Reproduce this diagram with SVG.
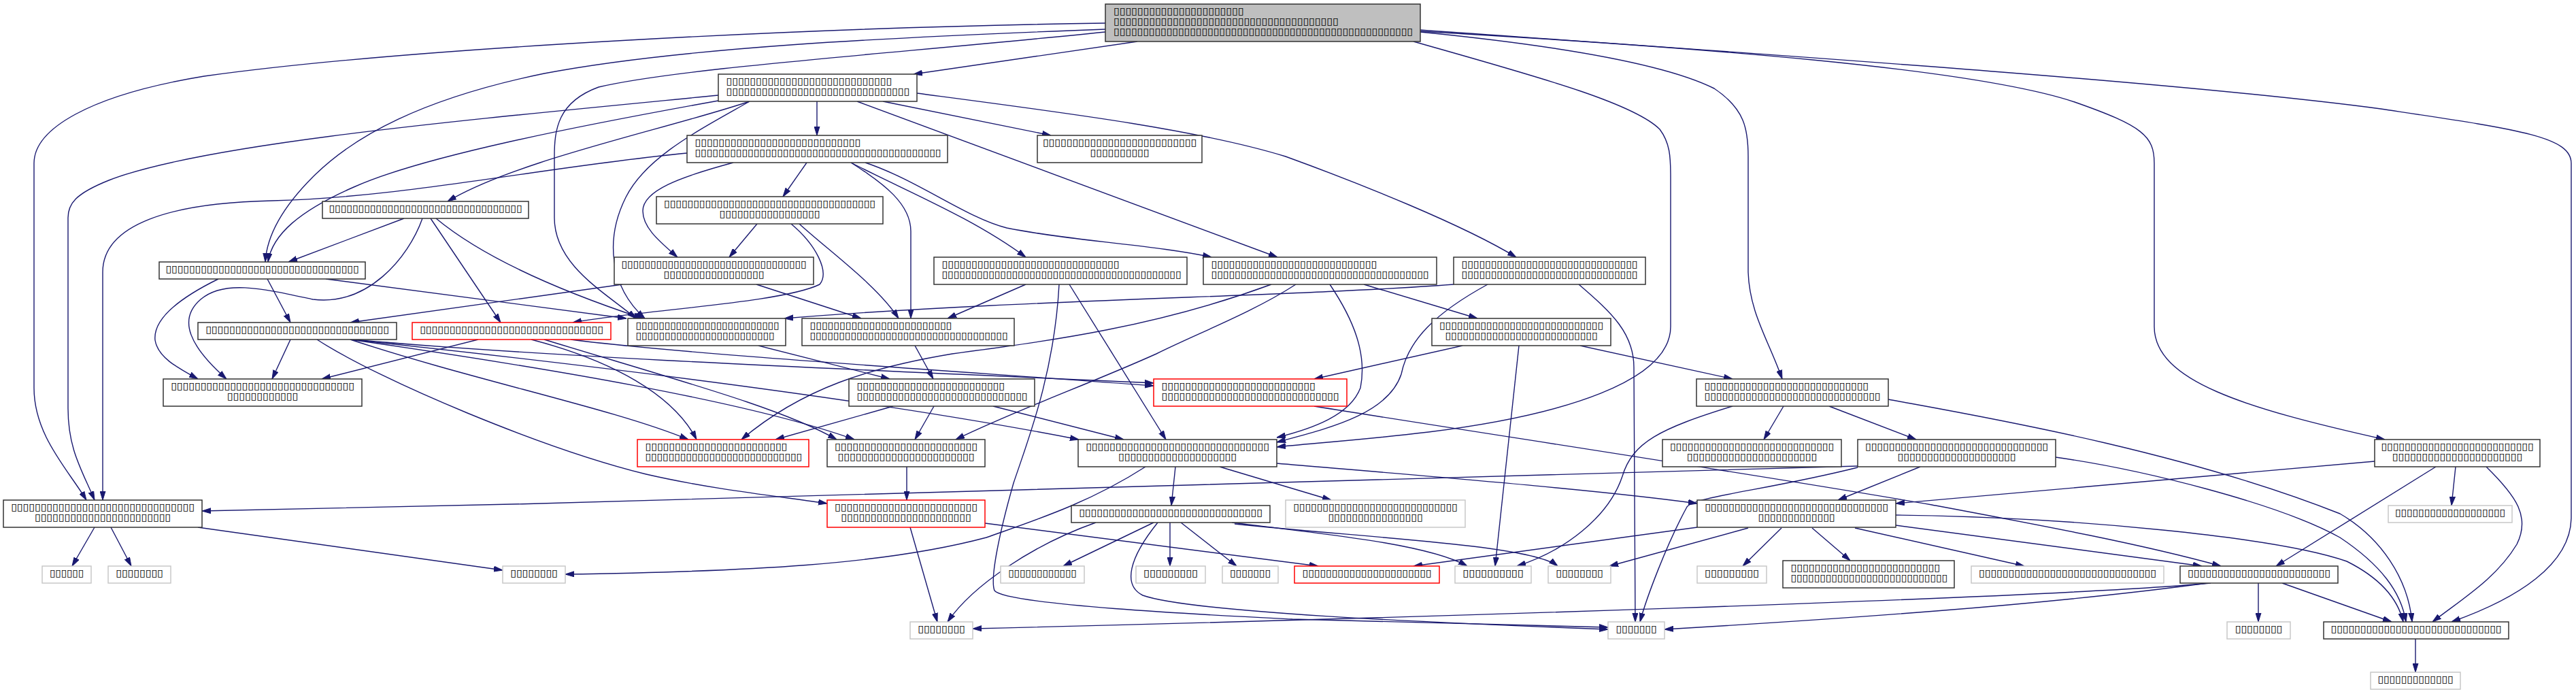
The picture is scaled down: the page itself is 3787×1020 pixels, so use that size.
<svg xmlns="http://www.w3.org/2000/svg" width="3787" height="1020" viewBox="0 0 3787 1020">
<style>
.nd rect{fill:#fff;stroke:#333;stroke-width:1.5}
.gy rect{stroke:#c8c8c8}
.rd rect{stroke:#ff0000}
#n1 rect{fill:#bfbfbf}
text{font-family:"DejaVu Sans","Liberation Sans",sans-serif;font-size:14px;font-weight:bold;fill:#000}
.c{text-anchor:middle}
#edges path{fill:none;stroke:#191970;stroke-width:1.4;marker-end:url(#ah)}
</style>
<defs>
<marker id="ah" markerWidth="13" markerHeight="9" refX="13" refY="4.5" orient="auto" markerUnits="userSpaceOnUse"><path d="M0,0.5 L13,4.5 L0,8.5 z" fill="#191970" stroke="#191970" stroke-width="1"/></marker>
</defs>
<rect width="3787" height="1020" fill="#fff"/>
<g id="edges">
<path d="M1672,61 L1343,109"/>
<path d="M1625,34 C1200,40 600,70 300,112 C130,140 50,190 50,240 L50,570 C50,640 100,690 127,735"/>
<path d="M1625,43 C1300,55 1000,70 800,108 C620,145 520,200 460,260 C410,310 392,350 390,385"/>
<path d="M1625,47 C1300,80 1000,100 880,128 C820,150 815,190 815,230 L815,320 C815,390 890,430 935,468"/>
<path d="M2078,61 C2250,110 2400,150 2440,190 C2455,210 2456,230 2456,260 L2456,480 C2456,560 2300,610 2100,635 C1990,648 1920,652 1877,657"/>
<path d="M2088,47 C2300,68 2450,95 2520,130 C2565,160 2570,190 2570,230 L2570,400 C2572,460 2600,500 2620,557"/>
<path d="M2088,44 C2600,80 3200,120 3500,160 C3700,190 3780,200 3780,240 L3780,760 C3780,830 3700,880 3604,914"/>
<path d="M2088,46 C2500,70 2900,100 3050,150 C3150,185 3167,200 3167,240 L3167,480 C3167,560 3300,600 3506,646"/>
<path d="M1201,149 L1201,199"/>
<path d="M1298,149 L1545,199"/>
<path d="M1260,149 L1878,378"/>
<path d="M1348,137 C1560,165 1760,190 1890,230 C2000,270 2150,330 2229,378"/>
<path d="M1056,140 C700,175 300,210 160,265 C110,285 100,300 100,320 L100,600 C100,660 120,690 139,735"/>
<path d="M1056,148 C850,185 620,230 520,275 C440,310 400,345 394,385"/>
<path d="M1102,149 C980,190 760,235 658,296"/>
<path d="M1102,149 C1030,190 950,230 920,290 C890,350 895,420 948,468"/>
<path d="M1010,225 C800,245 600,290 400,295 C250,298 151,330 151,400 L151,735"/>
<path d="M1078,239 C1000,260 945,280 945,310 C945,335 970,355 996,378"/>
<path d="M1186,239 L1151,289"/>
<path d="M1251,239 C1300,270 1339,300 1339,340 L1339,468"/>
<path d="M1251,239 C1330,280 1430,320 1508,378"/>
<path d="M1272,239 C1350,265 1420,320 1480,335 C1580,355 1700,360 1781,378"/>
<path d="M594,321 L424,385"/>
<path d="M621,321 C600,380 540,450 460,440 C390,425 330,410 295,440 C260,470 280,510 333,557"/>
<path d="M633,321 L736,474"/>
<path d="M641,321 C700,370 800,420 945,468"/>
<path d="M1113,329 L1072,378"/>
<path d="M1163,329 C1200,360 1220,400 1205,418 C1150,445 950,455 842,474"/>
<path d="M1175,329 C1220,370 1290,420 1321,468"/>
<path d="M321,410 C260,440 225,470 228,500 C232,525 260,540 291,557"/>
<path d="M393,410 L427,474"/>
<path d="M479,410 L921,468"/>
<path d="M915,418 L515,474"/>
<path d="M1112,418 L1266,468"/>
<path d="M1508,418 L1393,468"/>
<path d="M1557,418 C1550,550 1510,650 1490,710 C1470,780 1455,850 1462,868 C1480,890 1800,905 1900,910 C2100,915 2250,918 2364,922"/>
<path d="M1572,418 L1714,646"/>
<path d="M1869,418 C1700,480 1550,500 1400,520 C1280,540 1180,570 1090,646"/>
<path d="M1905,418 C1840,460 1760,490 1700,520 C1600,565 1500,600 1405,646"/>
<path d="M1955,418 C1990,470 2010,520 2000,570 C1985,610 1930,630 1877,643"/>
<path d="M2005,418 L2172,468"/>
<path d="M2187,418 C2110,460 2070,500 2060,550 C2040,610 1950,630 1877,650"/>
<path d="M2321,418 C2370,460 2402,490 2402,540 L2404,914"/>
<path d="M2137,418 C1900,436 1500,440 1153,468"/>
<path d="M427,499 L400,557"/>
<path d="M466,499 C560,560 800,660 950,697 C1050,720 1150,730 1216,740"/>
<path d="M520,499 C800,525 1300,545 1696,563"/>
<path d="M515,499 C700,560 900,600 1012,646"/>
<path d="M515,499 C800,540 1100,590 1256,646"/>
<path d="M515,499 C900,540 1300,590 1586,646"/>
<path d="M703,499 L473,557"/>
<path d="M839,499 C1000,520 1400,545 1696,567"/>
<path d="M781,499 C900,530 990,580 1024,646"/>
<path d="M800,499 C1000,560 1150,600 1230,646"/>
<path d="M1115,508 L1308,557"/>
<path d="M1345,508 L1372,557"/>
<path d="M2150,508 L1932,557"/>
<path d="M2233,508 L2198,832"/>
<path d="M2323,508 L2547,557"/>
<path d="M1313,597 L1140,646"/>
<path d="M1373,597 L1345,646"/>
<path d="M1460,597 L1652,646"/>
<path d="M1932,597 C2200,640 2600,700 2840,742 C3000,772 3150,800 3265,832"/>
<path d="M2547,597 C2440,630 2400,650 2385,700 C2365,760 2300,810 2230,832"/>
<path d="M2622,597 L2593,646"/>
<path d="M2689,597 L2817,646"/>
<path d="M2776,587 C2900,610 3200,660 3440,755 C3500,790 3540,850 3546,914"/>
<path d="M1333,686 L1333,735"/>
<path d="M1684,686 C1600,740 1520,765 1450,790 C1300,830 1100,840 831,844"/>
<path d="M1728,686 L1722,743"/>
<path d="M1877,681 C2100,700 2350,720 2495,740"/>
<path d="M1793,686 L1957,735"/>
<path d="M2731,685 C2200,702 1200,733 297,751"/>
<path d="M2823,686 L2702,735"/>
<path d="M2731,687 C2600,720 2490,730 2480,745 C2450,800 2420,880 2411,914"/>
<path d="M3022,672 C3150,690 3350,740 3440,790 C3500,830 3530,870 3537,914"/>
<path d="M3491,678 L2787,740"/>
<path d="M3581,686 L3346,832"/>
<path d="M3610,686 L3604,743"/>
<path d="M3655,686 C3700,730 3720,760 3700,800 C3670,850 3620,880 3576,914"/>
<path d="M139,775 L106,832"/>
<path d="M163,775 L193,832"/>
<path d="M291,775 L739,838"/>
<path d="M1338,775 L1378,914"/>
<path d="M1448,769 L1938,832"/>
<path d="M1611,768 C1520,800 1430,860 1393,914"/>
<path d="M1696,768 L1563,832"/>
<path d="M1702,768 C1660,820 1650,860 1680,875 C1750,900 2100,915 2364,925"/>
<path d="M1720,768 L1720,832"/>
<path d="M1736,768 L1818,832"/>
<path d="M1811,768 C1950,785 2100,800 2157,832"/>
<path d="M1815,770 C2000,790 2250,800 2290,832"/>
<path d="M2495,775 L2078,832"/>
<path d="M2570,776 L2366,832"/>
<path d="M2619,776 L2562,832"/>
<path d="M2664,776 L2720,824"/>
<path d="M2727,776 L2976,832"/>
<path d="M2787,772 L3237,832"/>
<path d="M2787,757 C3050,760 3350,790 3450,825 C3500,850 3525,880 3533,914"/>
<path d="M3250,857 C3000,880 2000,910 1430,924"/>
<path d="M3245,857 C3000,890 2700,910 2447,925"/>
<path d="M3320,857 L3320,914"/>
<path d="M3355,857 L3516,914"/>
<path d="M3551,939 L3551,988"/>
</g>
<g id="n1" class="nd"><rect x="1625" y="6" width="463" height="55"/>
<text x="1637" y="21" textLength="191.4" lengthAdjust="spacingAndGlyphs">▯▯▯▯▯▯▯▯▯▯▯▯▯▯▯▯▯▯▯▯▯▯</text>
<text x="1637" y="36" textLength="330.6" lengthAdjust="spacingAndGlyphs">▯▯▯▯▯▯▯▯▯▯▯▯▯▯▯▯▯▯▯▯▯▯▯▯▯▯▯▯▯▯▯▯▯▯▯▯▯▯</text>
<text x="1637" y="51" textLength="440" lengthAdjust="spacingAndGlyphs">▯▯▯▯▯▯▯▯▯▯▯▯▯▯▯▯▯▯▯▯▯▯▯▯▯▯▯▯▯▯▯▯▯▯▯▯▯▯▯▯▯▯▯▯▯▯▯▯▯▯▯</text></g>
<g id="n2" class="nd"><rect x="1056" y="109" width="292" height="40"/>
<text x="1067.5" y="124" textLength="243.6" lengthAdjust="spacingAndGlyphs">▯▯▯▯▯▯▯▯▯▯▯▯▯▯▯▯▯▯▯▯▯▯▯▯▯▯▯▯</text>
<text x="1067.5" y="139" textLength="269.7" lengthAdjust="spacingAndGlyphs">▯▯▯▯▯▯▯▯▯▯▯▯▯▯▯▯▯▯▯▯▯▯▯▯▯▯▯▯▯▯▯</text></g>
<g id="n3" class="nd"><rect x="1010" y="199" width="383" height="40"/>
<text x="1021.5" y="214" textLength="243.6" lengthAdjust="spacingAndGlyphs">▯▯▯▯▯▯▯▯▯▯▯▯▯▯▯▯▯▯▯▯▯▯▯▯▯▯▯▯</text>
<text x="1021.5" y="229" textLength="362" lengthAdjust="spacingAndGlyphs">▯▯▯▯▯▯▯▯▯▯▯▯▯▯▯▯▯▯▯▯▯▯▯▯▯▯▯▯▯▯▯▯▯▯▯▯▯▯▯▯▯▯</text></g>
<g id="n4" class="nd"><rect x="1525" y="199" width="242" height="40"/>
<text class="c" x="1646" y="214" textLength="226.2" lengthAdjust="spacingAndGlyphs">▯▯▯▯▯▯▯▯▯▯▯▯▯▯▯▯▯▯▯▯▯▯▯▯▯▯</text>
<text class="c" x="1646" y="229" textLength="87" lengthAdjust="spacingAndGlyphs">▯▯▯▯▯▯▯▯▯▯</text></g>
<g id="n5" class="nd"><rect x="474" y="296" width="303" height="25"/>
<text class="c" x="625.5" y="311" textLength="284" lengthAdjust="spacingAndGlyphs">▯▯▯▯▯▯▯▯▯▯▯▯▯▯▯▯▯▯▯▯▯▯▯▯▯▯▯▯▯▯▯▯▯</text></g>
<g id="n6" class="nd"><rect x="965" y="289" width="333" height="40"/>
<text class="c" x="1131.5" y="304" textLength="311" lengthAdjust="spacingAndGlyphs">▯▯▯▯▯▯▯▯▯▯▯▯▯▯▯▯▯▯▯▯▯▯▯▯▯▯▯▯▯▯▯▯▯▯▯▯</text>
<text class="c" x="1131.5" y="319" textLength="147.9" lengthAdjust="spacingAndGlyphs">▯▯▯▯▯▯▯▯▯▯▯▯▯▯▯▯▯</text></g>
<g id="n7" class="nd"><rect x="234" y="385" width="303" height="25"/>
<text class="c" x="385.5" y="400" textLength="284" lengthAdjust="spacingAndGlyphs">▯▯▯▯▯▯▯▯▯▯▯▯▯▯▯▯▯▯▯▯▯▯▯▯▯▯▯▯▯▯▯▯▯</text></g>
<g id="n8" class="nd"><rect x="903" y="378" width="293" height="40"/>
<text class="c" x="1049.5" y="393" textLength="272" lengthAdjust="spacingAndGlyphs">▯▯▯▯▯▯▯▯▯▯▯▯▯▯▯▯▯▯▯▯▯▯▯▯▯▯▯▯▯▯▯▯</text>
<text class="c" x="1049.5" y="408" textLength="147.9" lengthAdjust="spacingAndGlyphs">▯▯▯▯▯▯▯▯▯▯▯▯▯▯▯▯▯</text></g>
<g id="n9" class="nd"><rect x="1373" y="378" width="372" height="40"/>
<text x="1384.5" y="393" textLength="261" lengthAdjust="spacingAndGlyphs">▯▯▯▯▯▯▯▯▯▯▯▯▯▯▯▯▯▯▯▯▯▯▯▯▯▯▯▯▯▯</text>
<text x="1384.5" y="408" textLength="352" lengthAdjust="spacingAndGlyphs">▯▯▯▯▯▯▯▯▯▯▯▯▯▯▯▯▯▯▯▯▯▯▯▯▯▯▯▯▯▯▯▯▯▯▯▯▯▯▯▯▯</text></g>
<g id="n10" class="nd"><rect x="1769" y="378" width="343" height="40"/>
<text x="1780.5" y="393" textLength="243.6" lengthAdjust="spacingAndGlyphs">▯▯▯▯▯▯▯▯▯▯▯▯▯▯▯▯▯▯▯▯▯▯▯▯▯▯▯▯</text>
<text x="1780.5" y="408" textLength="320" lengthAdjust="spacingAndGlyphs">▯▯▯▯▯▯▯▯▯▯▯▯▯▯▯▯▯▯▯▯▯▯▯▯▯▯▯▯▯▯▯▯▯▯▯▯▯</text></g>
<g id="n11" class="nd"><rect x="2137" y="378" width="282" height="40"/>
<text x="2148.5" y="393" textLength="259" lengthAdjust="spacingAndGlyphs">▯▯▯▯▯▯▯▯▯▯▯▯▯▯▯▯▯▯▯▯▯▯▯▯▯▯▯▯▯▯</text>
<text x="2148.5" y="408" textLength="259" lengthAdjust="spacingAndGlyphs">▯▯▯▯▯▯▯▯▯▯▯▯▯▯▯▯▯▯▯▯▯▯▯▯▯▯▯▯▯▯</text></g>
<g id="n12" class="nd"><rect x="291" y="474" width="292" height="25"/>
<text class="c" x="437" y="489" textLength="269.7" lengthAdjust="spacingAndGlyphs">▯▯▯▯▯▯▯▯▯▯▯▯▯▯▯▯▯▯▯▯▯▯▯▯▯▯▯▯▯▯▯</text></g>
<g id="n13" class="nd rd"><rect x="606" y="474" width="292" height="25"/>
<text class="c" x="752" y="489" textLength="269.7" lengthAdjust="spacingAndGlyphs">▯▯▯▯▯▯▯▯▯▯▯▯▯▯▯▯▯▯▯▯▯▯▯▯▯▯▯▯▯▯▯</text></g>
<g id="n14" class="nd"><rect x="923" y="468" width="232" height="40"/>
<text x="934.5" y="483" textLength="211" lengthAdjust="spacingAndGlyphs">▯▯▯▯▯▯▯▯▯▯▯▯▯▯▯▯▯▯▯▯▯▯▯▯▯</text>
<text x="934.5" y="498" textLength="204" lengthAdjust="spacingAndGlyphs">▯▯▯▯▯▯▯▯▯▯▯▯▯▯▯▯▯▯▯▯▯▯▯▯</text></g>
<g id="n15" class="nd"><rect x="1179" y="468" width="312" height="40"/>
<text x="1190.5" y="483" textLength="208.8" lengthAdjust="spacingAndGlyphs">▯▯▯▯▯▯▯▯▯▯▯▯▯▯▯▯▯▯▯▯▯▯▯▯</text>
<text x="1190.5" y="498" textLength="291" lengthAdjust="spacingAndGlyphs">▯▯▯▯▯▯▯▯▯▯▯▯▯▯▯▯▯▯▯▯▯▯▯▯▯▯▯▯▯▯▯▯▯▯</text></g>
<g id="n16" class="nd"><rect x="2105" y="468" width="263" height="40"/>
<text class="c" x="2236.5" y="483" textLength="241" lengthAdjust="spacingAndGlyphs">▯▯▯▯▯▯▯▯▯▯▯▯▯▯▯▯▯▯▯▯▯▯▯▯▯▯▯▯</text>
<text class="c" x="2236.5" y="498" textLength="224" lengthAdjust="spacingAndGlyphs">▯▯▯▯▯▯▯▯▯▯▯▯▯▯▯▯▯▯▯▯▯▯▯▯▯▯</text></g>
<g id="n17" class="nd"><rect x="240" y="557" width="292" height="40"/>
<text class="c" x="386" y="572" textLength="269.7" lengthAdjust="spacingAndGlyphs">▯▯▯▯▯▯▯▯▯▯▯▯▯▯▯▯▯▯▯▯▯▯▯▯▯▯▯▯▯▯▯</text>
<text class="c" x="386" y="587" textLength="104.4" lengthAdjust="spacingAndGlyphs">▯▯▯▯▯▯▯▯▯▯▯▯</text></g>
<g id="n18" class="nd"><rect x="1248" y="557" width="273" height="40"/>
<text x="1259.5" y="572" textLength="217.5" lengthAdjust="spacingAndGlyphs">▯▯▯▯▯▯▯▯▯▯▯▯▯▯▯▯▯▯▯▯▯▯▯▯▯</text>
<text x="1259.5" y="587" textLength="251" lengthAdjust="spacingAndGlyphs">▯▯▯▯▯▯▯▯▯▯▯▯▯▯▯▯▯▯▯▯▯▯▯▯▯▯▯▯▯</text></g>
<g id="n19" class="nd rd"><rect x="1696" y="557" width="284" height="40"/>
<text x="1707.5" y="572" textLength="226.2" lengthAdjust="spacingAndGlyphs">▯▯▯▯▯▯▯▯▯▯▯▯▯▯▯▯▯▯▯▯▯▯▯▯▯▯</text>
<text x="1707.5" y="587" textLength="261" lengthAdjust="spacingAndGlyphs">▯▯▯▯▯▯▯▯▯▯▯▯▯▯▯▯▯▯▯▯▯▯▯▯▯▯▯▯▯▯</text></g>
<g id="n20" class="nd"><rect x="2494" y="557" width="282" height="40"/>
<text x="2505.5" y="572" textLength="241.5" lengthAdjust="spacingAndGlyphs">▯▯▯▯▯▯▯▯▯▯▯▯▯▯▯▯▯▯▯▯▯▯▯▯▯▯▯▯</text>
<text x="2505.5" y="587" textLength="259" lengthAdjust="spacingAndGlyphs">▯▯▯▯▯▯▯▯▯▯▯▯▯▯▯▯▯▯▯▯▯▯▯▯▯▯▯▯▯▯</text></g>
<g id="n21" class="nd rd"><rect x="937" y="646" width="252" height="40"/>
<text x="948.5" y="661" textLength="208.8" lengthAdjust="spacingAndGlyphs">▯▯▯▯▯▯▯▯▯▯▯▯▯▯▯▯▯▯▯▯▯▯▯▯</text>
<text x="948.5" y="676" textLength="230.5" lengthAdjust="spacingAndGlyphs">▯▯▯▯▯▯▯▯▯▯▯▯▯▯▯▯▯▯▯▯▯▯▯▯▯▯▯</text></g>
<g id="n22" class="nd"><rect x="1216" y="646" width="232" height="40"/>
<text class="c" x="1332" y="661" textLength="210" lengthAdjust="spacingAndGlyphs">▯▯▯▯▯▯▯▯▯▯▯▯▯▯▯▯▯▯▯▯▯▯▯▯</text>
<text class="c" x="1332" y="676" textLength="201.2" lengthAdjust="spacingAndGlyphs">▯▯▯▯▯▯▯▯▯▯▯▯▯▯▯▯▯▯▯▯▯▯▯</text></g>
<g id="n23" class="nd"><rect x="1585" y="646" width="292" height="40"/>
<text class="c" x="1731" y="661" textLength="269.7" lengthAdjust="spacingAndGlyphs">▯▯▯▯▯▯▯▯▯▯▯▯▯▯▯▯▯▯▯▯▯▯▯▯▯▯▯▯▯▯▯</text>
<text class="c" x="1731" y="676" textLength="174" lengthAdjust="spacingAndGlyphs">▯▯▯▯▯▯▯▯▯▯▯▯▯▯▯▯▯▯▯▯</text></g>
<g id="n24" class="nd"><rect x="2444" y="646" width="263" height="40"/>
<text class="c" x="2575.5" y="661" textLength="241" lengthAdjust="spacingAndGlyphs">▯▯▯▯▯▯▯▯▯▯▯▯▯▯▯▯▯▯▯▯▯▯▯▯▯▯▯▯</text>
<text class="c" x="2575.5" y="676" textLength="191.4" lengthAdjust="spacingAndGlyphs">▯▯▯▯▯▯▯▯▯▯▯▯▯▯▯▯▯▯▯▯▯▯</text></g>
<g id="n25" class="nd"><rect x="2731" y="646" width="291" height="40"/>
<text class="c" x="2876.5" y="661" textLength="269" lengthAdjust="spacingAndGlyphs">▯▯▯▯▯▯▯▯▯▯▯▯▯▯▯▯▯▯▯▯▯▯▯▯▯▯▯▯▯▯▯</text>
<text class="c" x="2876.5" y="676" textLength="174" lengthAdjust="spacingAndGlyphs">▯▯▯▯▯▯▯▯▯▯▯▯▯▯▯▯▯▯▯▯</text></g>
<g id="n26" class="nd"><rect x="3491" y="646" width="243" height="40"/>
<text class="c" x="3612.5" y="661" textLength="224" lengthAdjust="spacingAndGlyphs">▯▯▯▯▯▯▯▯▯▯▯▯▯▯▯▯▯▯▯▯▯▯▯▯▯▯</text>
<text class="c" x="3612.5" y="676" textLength="191.4" lengthAdjust="spacingAndGlyphs">▯▯▯▯▯▯▯▯▯▯▯▯▯▯▯▯▯▯▯▯▯▯</text></g>
<g id="n27" class="nd"><rect x="5" y="735" width="292" height="40"/>
<text class="c" x="151" y="750" textLength="269.7" lengthAdjust="spacingAndGlyphs">▯▯▯▯▯▯▯▯▯▯▯▯▯▯▯▯▯▯▯▯▯▯▯▯▯▯▯▯▯▯▯</text>
<text class="c" x="151" y="765" textLength="200.1" lengthAdjust="spacingAndGlyphs">▯▯▯▯▯▯▯▯▯▯▯▯▯▯▯▯▯▯▯▯▯▯▯</text></g>
<g id="n28" class="nd rd"><rect x="1216" y="735" width="232" height="40"/>
<text class="c" x="1332" y="750" textLength="210" lengthAdjust="spacingAndGlyphs">▯▯▯▯▯▯▯▯▯▯▯▯▯▯▯▯▯▯▯▯▯▯▯▯</text>
<text class="c" x="1332" y="765" textLength="191.4" lengthAdjust="spacingAndGlyphs">▯▯▯▯▯▯▯▯▯▯▯▯▯▯▯▯▯▯▯▯▯▯</text></g>
<g id="n29" class="nd"><rect x="1575" y="743" width="292" height="25"/>
<text class="c" x="1721" y="758" textLength="269.7" lengthAdjust="spacingAndGlyphs">▯▯▯▯▯▯▯▯▯▯▯▯▯▯▯▯▯▯▯▯▯▯▯▯▯▯▯▯▯▯▯</text></g>
<g id="n30" class="nd gy"><rect x="1890" y="735" width="264" height="40"/>
<text class="c" x="2022" y="750" textLength="241.5" lengthAdjust="spacingAndGlyphs">▯▯▯▯▯▯▯▯▯▯▯▯▯▯▯▯▯▯▯▯▯▯▯▯▯▯▯▯</text>
<text class="c" x="2022" y="765" textLength="139.2" lengthAdjust="spacingAndGlyphs">▯▯▯▯▯▯▯▯▯▯▯▯▯▯▯▯</text></g>
<g id="n31" class="nd"><rect x="2495" y="735" width="292" height="40"/>
<text class="c" x="2641" y="750" textLength="269.7" lengthAdjust="spacingAndGlyphs">▯▯▯▯▯▯▯▯▯▯▯▯▯▯▯▯▯▯▯▯▯▯▯▯▯▯▯▯▯▯▯</text>
<text class="c" x="2641" y="765" textLength="113.1" lengthAdjust="spacingAndGlyphs">▯▯▯▯▯▯▯▯▯▯▯▯▯</text></g>
<g id="n32" class="nd gy"><rect x="3511" y="743" width="182" height="25"/>
<text class="c" x="3602" y="758" textLength="162" lengthAdjust="spacingAndGlyphs">▯▯▯▯▯▯▯▯▯▯▯▯▯▯▯▯▯▯▯</text></g>
<g id="n33" class="nd gy"><rect x="62" y="832" width="72" height="25"/>
<text class="c" x="98" y="847" textLength="50" lengthAdjust="spacingAndGlyphs">▯▯▯▯▯▯</text></g>
<g id="n34" class="nd gy"><rect x="159" y="832" width="92" height="25"/>
<text class="c" x="205" y="847" textLength="69.6" lengthAdjust="spacingAndGlyphs">▯▯▯▯▯▯▯▯</text></g>
<g id="n35" class="nd gy"><rect x="739" y="832" width="92" height="25"/>
<text class="c" x="785" y="847" textLength="69.6" lengthAdjust="spacingAndGlyphs">▯▯▯▯▯▯▯▯</text></g>
<g id="n36" class="nd gy"><rect x="1471" y="832" width="123" height="25"/>
<text class="c" x="1532.5" y="847" textLength="100.5" lengthAdjust="spacingAndGlyphs">▯▯▯▯▯▯▯▯▯▯▯▯</text></g>
<g id="n37" class="nd gy"><rect x="1670" y="832" width="102" height="25"/>
<text class="c" x="1721" y="847" textLength="80" lengthAdjust="spacingAndGlyphs">▯▯▯▯▯▯▯▯▯</text></g>
<g id="n38" class="nd gy"><rect x="1797" y="832" width="82" height="25"/>
<text class="c" x="1838" y="847" textLength="60" lengthAdjust="spacingAndGlyphs">▯▯▯▯▯▯▯</text></g>
<g id="n39" class="nd rd"><rect x="1903" y="832" width="213" height="25"/>
<text class="c" x="2009.5" y="847" textLength="190" lengthAdjust="spacingAndGlyphs">▯▯▯▯▯▯▯▯▯▯▯▯▯▯▯▯▯▯▯▯▯▯</text></g>
<g id="n40" class="nd gy"><rect x="2139" y="832" width="112" height="25"/>
<text class="c" x="2195" y="847" textLength="89.5" lengthAdjust="spacingAndGlyphs">▯▯▯▯▯▯▯▯▯▯</text></g>
<g id="n41" class="nd gy"><rect x="2276" y="832" width="92" height="25"/>
<text class="c" x="2322" y="847" textLength="69.6" lengthAdjust="spacingAndGlyphs">▯▯▯▯▯▯▯▯</text></g>
<g id="n42" class="nd gy"><rect x="2495" y="832" width="102" height="25"/>
<text class="c" x="2546" y="847" textLength="80" lengthAdjust="spacingAndGlyphs">▯▯▯▯▯▯▯▯▯</text></g>
<g id="n43" class="nd"><rect x="2621" y="824" width="252" height="40"/>
<text x="2632.5" y="839" textLength="219.5" lengthAdjust="spacingAndGlyphs">▯▯▯▯▯▯▯▯▯▯▯▯▯▯▯▯▯▯▯▯▯▯▯▯▯</text>
<text x="2632.5" y="854" textLength="230.5" lengthAdjust="spacingAndGlyphs">▯▯▯▯▯▯▯▯▯▯▯▯▯▯▯▯▯▯▯▯▯▯▯▯▯▯▯</text></g>
<g id="n44" class="nd gy"><rect x="2898" y="832" width="283" height="25"/>
<text class="c" x="3039.5" y="847" textLength="261" lengthAdjust="spacingAndGlyphs">▯▯▯▯▯▯▯▯▯▯▯▯▯▯▯▯▯▯▯▯▯▯▯▯▯▯▯▯▯▯</text></g>
<g id="n45" class="nd"><rect x="3205" y="832" width="232" height="25"/>
<text class="c" x="3321" y="847" textLength="210" lengthAdjust="spacingAndGlyphs">▯▯▯▯▯▯▯▯▯▯▯▯▯▯▯▯▯▯▯▯▯▯▯▯</text></g>
<g id="n46" class="nd gy"><rect x="1338" y="914" width="92" height="25"/>
<text class="c" x="1384" y="929" textLength="69.6" lengthAdjust="spacingAndGlyphs">▯▯▯▯▯▯▯▯</text></g>
<g id="n47" class="nd gy"><rect x="2364" y="914" width="83" height="25"/>
<text class="c" x="2405.5" y="929" textLength="60" lengthAdjust="spacingAndGlyphs">▯▯▯▯▯▯▯</text></g>
<g id="n48" class="nd gy"><rect x="3274" y="914" width="93" height="25"/>
<text class="c" x="3320.5" y="929" textLength="69.6" lengthAdjust="spacingAndGlyphs">▯▯▯▯▯▯▯▯</text></g>
<g id="n49" class="nd"><rect x="3416" y="914" width="272" height="25"/>
<text class="c" x="3552" y="929" textLength="251" lengthAdjust="spacingAndGlyphs">▯▯▯▯▯▯▯▯▯▯▯▯▯▯▯▯▯▯▯▯▯▯▯▯▯▯▯▯▯</text></g>
<g id="n50" class="nd gy"><rect x="3485" y="988" width="132" height="25"/>
<text class="c" x="3551" y="1003" textLength="111" lengthAdjust="spacingAndGlyphs">▯▯▯▯▯▯▯▯▯▯▯▯▯</text></g>
</svg>
